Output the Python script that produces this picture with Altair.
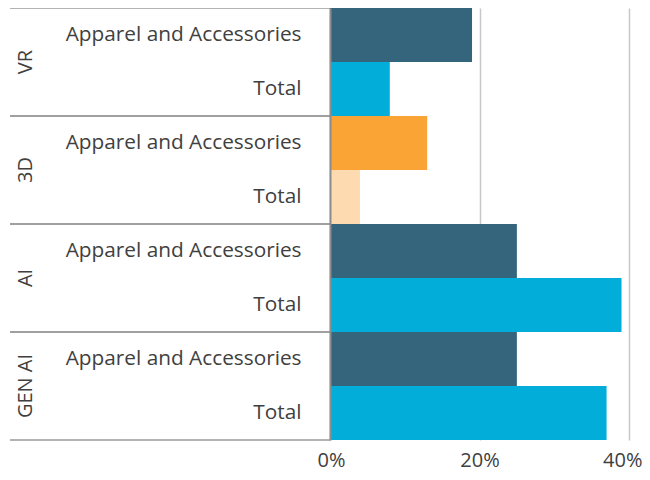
import altair as alt
import pandas as pd

groups = ["VR", "VR", "3D", "3D", "AI", "AI", "GEN AI", "GEN AI"]
subs = ["Apparel and Accessories", "Total"] * 4
values = [0.19, 0.08, 0.13, 0.04, 0.25, 0.39, 0.25, 0.37]
palette = ["#35657d", "#02aed9", "#f9a435", "#fddab0",
           "#35657d", "#02aed9", "#35657d", "#02aed9"]
tick_values = [0, 0.2, 0.4]

keys = [g + "|" + s for g, s in zip(groups, subs)]
df = pd.DataFrame({"key": keys, "group": groups, "sub": subs, "value": values})

FONT = "Open Sans"
TXT = "#404040"
LINE = "#9a9a9a"

y_axis = alt.Axis(
    title=None, labelExpr="split(datum.value, '|')[1]", labelFont=FONT,
    labelFontSize=20.8, labelColor=TXT, labelAlign="right", labelPadding=29,
    labelLimit=400, ticks=False, tickSize=0, domain=True, domainColor="#8c8c8c",
    domainWidth=2, zindex=1, grid=False,
)
x_axis = alt.Axis(
    title=None, values=tick_values, format=".0%", labelFont=FONT,
    labelFontSize=20, labelColor=TXT, labelPadding=10, labelFlush=True,
    labelFlushOffset=13, ticks=False, tickSize=0, domain=False, grid=True,
    gridColor="#c8c8c8", gridWidth=1.5,
)

base = alt.Chart(df)
yscale = alt.Scale(paddingInner=0, paddingOuter=0)

bars = base.mark_bar().encode(
    y=alt.Y("key:N", sort=keys, scale=yscale, axis=y_axis),
    x=alt.X("value:Q", scale=alt.Scale(domain=[0, 0.4], nice=False), axis=x_axis),
    color=alt.Color("key:N", scale=alt.Scale(domain=keys, range=palette), legend=None),
)

sep_top = base.transform_filter(alt.datum.sub == "Apparel and Accessories").mark_rule(
    color=LINE, strokeWidth=1.5
).encode(
    y=alt.Y("key:N", sort=keys, bandPosition=0),
    x=alt.value(-320), x2=alt.value(0),
)
sep_bottom = base.transform_filter(alt.datum.sub == "Total").mark_rule(
    color=LINE, strokeWidth=1.5
).encode(
    y=alt.Y("key:N", sort=keys, bandPosition=1),
    x=alt.value(-320), x2=alt.value(0),
)

group_labels = base.transform_filter(alt.datum.sub == "Apparel and Accessories").mark_text(
    angle=270, align="center", baseline="middle", font=FONT, fontSize=20, color=TXT
).encode(
    y=alt.Y("key:N", sort=keys, bandPosition=1),
    x=alt.value(-304),
    text="group:N",
)

chart = alt.layer(bars, sep_top, sep_bottom, group_labels).properties(
    width=299, height=432,
    autosize=alt.AutoSizeParams(type="none"),
    padding={"left": 322, "top": 0, "right": 13, "bottom": 32},
).configure_view(strokeWidth=0)

chart.save("out.html", embed_options={"renderer": "svg", "actions": False})
